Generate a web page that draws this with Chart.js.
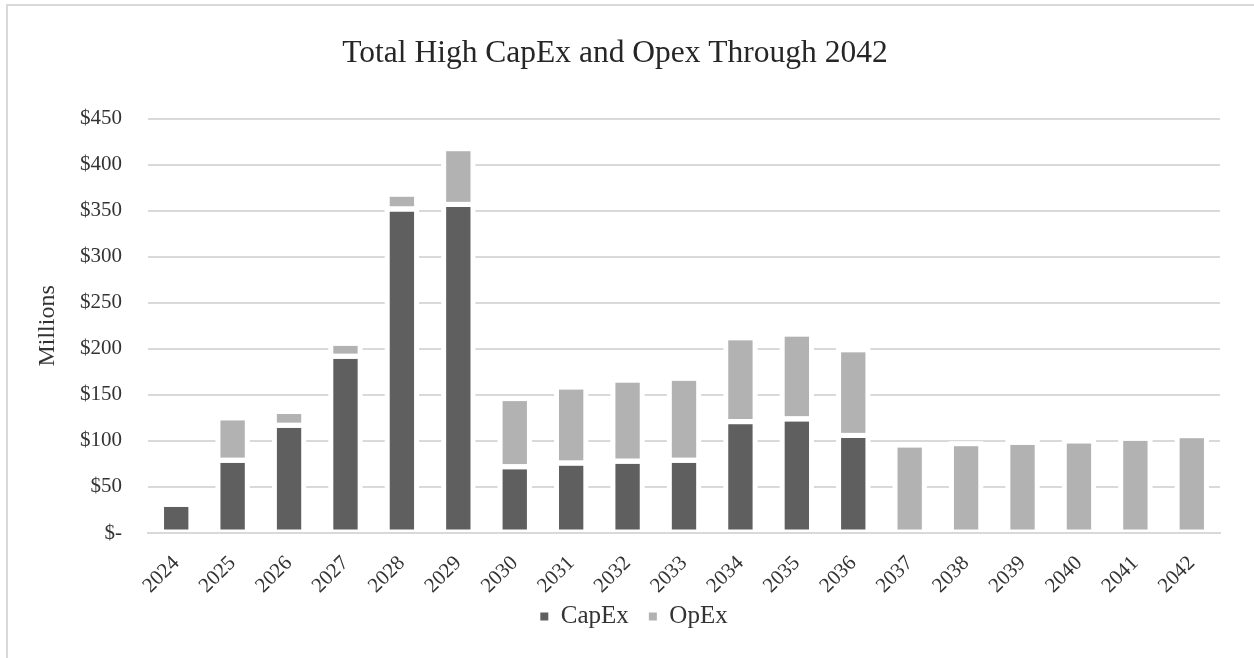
<!DOCTYPE html>
<html>
<head>
<meta charset="utf-8">
<title>Total High CapEx and Opex Through 2042</title>
<script src="https://cdn.jsdelivr.net/npm/chart.js@4.4.1/dist/chart.umd.min.js"></script>
<style>
    html, body { margin: 0; padding: 0; background: #fff; overflow: hidden; }
    #wrap { position: relative; width: 1254px; height: 658px; }
    #frame { position: absolute; left: 6px; top: 4px; width: 1270px; height: 680px; border-left: 2px solid #d9d9d9; border-top: 2px solid #d9d9d9; }
    #chartCapex { position: absolute; left: 0; top: 0; }
</style>
</head>
<body>
<div id="wrap">
    <div id="frame"></div>
    <canvas id="chartCapex" width="1254" height="658"></canvas>
</div>
<script>
// số liệu (triệu $)
var years = ['2024', '2025', '2026', '2027', '2028', '2029', '2030', '2031', '2032', '2033',
    '2034', '2035', '2036', '2037', '2038', '2039', '2040', '2041', '2042']
var capex = [31, 79, 117, 192, 352, 357, 72, 76, 78, 79, 121, 124, 106, 0, 0, 0, 0, 0, 0]
var opex = [0, 46, 15, 14, 16, 60.5, 74, 82.5, 88, 89, 91, 92, 93, 95.5, 97, 98.4, 99.9, 102.8, 105.7]
var yMax = 450
var yStep = 50

var serif = 'Liberation Serif'

// viền trắng quanh cột như Excel, cắt luôn đường lưới
var barOutline = {
    id: 'barOutline',
    afterDatasetsDraw: function (chart) {
        var ctx = chart.ctx
        var area = chart.chartArea
        var zeroY = chart.scales.y.getPixelForValue(0)
        ctx.save()
        ctx.beginPath()
        ctx.rect(area.left, 0, area.right - area.left, zeroY - 1)
        ctx.clip()
        ctx.strokeStyle = '#ffffff'
        ctx.lineWidth = 5
        chart.data.datasets.forEach(function (ds, i) {
            var meta = chart.getDatasetMeta(i)
            meta.data.forEach(function (bar, j) {
                if (!ds.data[j]) return
                var p = bar.getProps(['x', 'y', 'base', 'width'], true)
                var top = Math.min(p.y, p.base)
                ctx.strokeRect(p.x - p.width / 2, top, p.width, Math.abs(p.base - p.y))
            })
        })
        ctx.restore()
    }
}

// chú thích: dời sang phải và lên trên cho giống bản gốc
var legendShift = {
    id: 'legendShift',
    afterLayout: function (chart) {
        chart.legend.left += 19
        chart.legend.right += 19
        chart.legend.top -= 15
        chart.legend.bottom -= 15
    }
}

var myChart = new Chart(document.getElementById('chartCapex'), {
    type: 'bar',
    data: {
        labels: years,
        datasets: [
            { label: 'CapEx', data: capex, backgroundColor: '#5f5f5f', borderWidth: 0, barPercentage: 0.52, categoryPercentage: 1 },
            { label: 'OpEx', data: opex, backgroundColor: '#b2b2b2', borderWidth: 0, barPercentage: 0.52, categoryPercentage: 1 }
        ]
    },
    options: {
        responsive: false,
        animation: false,
        devicePixelRatio: 1,
        layout: { padding: { top: 10, left: 10, right: 34, bottom: 4 } },
        scales: {
            x: {
                stacked: true,
                grid: { display: false },
                border: { display: true, color: '#d9d9d9', width: 2 },
                ticks: { color: '#333', font: { family: serif, size: 21 }, minRotation: 45, maxRotation: 45, autoSkip: false, padding: 10 },
                afterFit: function (scale) { scale.height = 66 }
            },
            y: {
                stacked: true,
                min: 0,
                max: yMax,
                grid: { color: '#d9d9d9', lineWidth: 2, drawTicks: false },
                border: { display: false },
                ticks: {
                    stepSize: yStep,
                    padding: 26,
                    color: '#333',
                    font: { family: serif, size: 21 },
                    callback: function (v) { return v === 0 ? '$-' : '$' + v }
                },
                title: { display: true, text: 'Millions', color: '#333', font: { family: serif, size: 24 }, padding: { top: 23, bottom: 0 } },
                afterFit: function (scale) { scale.width = 138 }
            }
        },
        plugins: {
            title: {
                display: true,
                text: 'Total High CapEx and Opex Through 2042',
                color: '#262626',
                font: { family: serif, size: 31.5, weight: 'normal' },
                padding: { top: 25, bottom: 46 }
            },
            legend: {
                position: 'bottom',
                labels: { boxWidth: 8, boxHeight: 8, padding: 20, color: '#333', font: { family: serif, size: 25 } }
            },
            tooltip: { enabled: false }
        }
    },
    plugins: [barOutline, legendShift]
})
</script>
</body>
</html>
